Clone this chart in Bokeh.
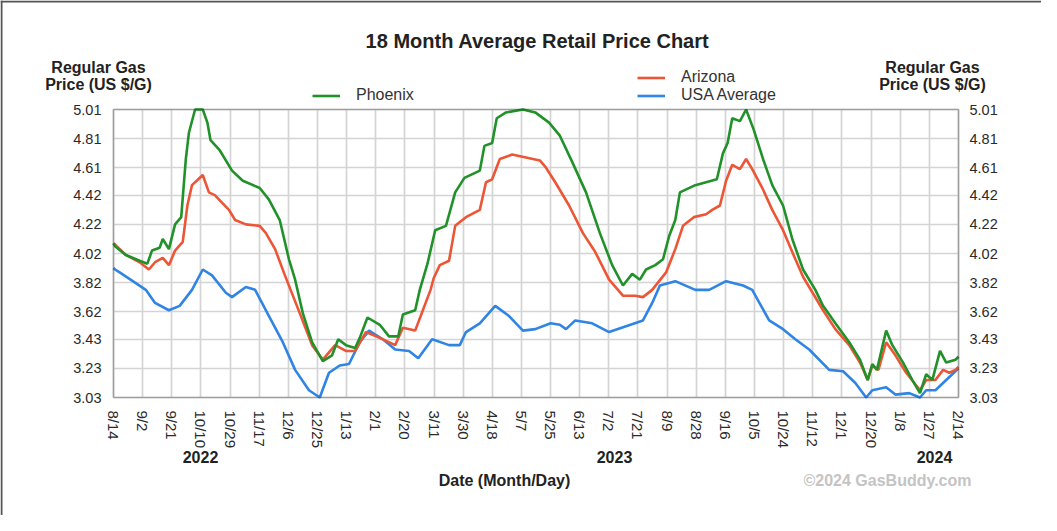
import math
from bokeh.plotting import figure
from bokeh.models import (FixedTicker, LinearAxis, Label, Legend, LegendItem, Range1d,
                          BoxAnnotation, Span)
from bokeh.embed import file_html
from bokeh.resources import INLINE

# ---- data (x = days since 2022-08-14) ----
x_tick_labels = ["8/14", "9/2", "9/21", "10/10", "10/29", "11/17", "12/6", "12/25", "1/13", "2/1",
                 "2/20", "3/11", "3/30", "4/18", "5/7", "5/25", "6/13", "7/2", "7/21", "8/9",
                 "8/28", "9/16", "10/5", "10/24", "11/12", "12/1", "12/20", "1/8", "1/27", "2/14"]
total_days = 549
y_tick_labels = ["3.03", "3.23", "3.43", "3.62", "3.82", "4.02", "4.22", "4.42", "4.61", "4.81", "5.01"]
years = ["2022", "2023", "2024"]

phx_day = [0, 1, 8, 17, 22, 25, 30, 32, 36, 40, 44, 47, 49, 53, 58, 61, 63, 69, 77, 84,
           95, 101, 108, 114, 118, 123, 129, 136, 142, 146, 151, 157, 160, 165, 173, 179, 185, 188, 196, 199,
           204, 209, 216, 222, 228, 238, 241, 246, 249, 255, 266, 274, 283, 290, 298, 307, 316, 324, 331, 337,
           342, 346, 352, 357, 361, 365, 368, 378, 385, 392, 396, 399, 402, 407, 411, 416, 422, 428, 435, 441,
           448, 456, 461, 469, 478, 485, 490, 493, 496, 502, 506, 513, 519, 524, 528, 532, 537, 541, 547, 549]
phx_val = [4.09, 4.07, 4.01, 3.97, 3.95, 4.04, 4.06, 4.12, 4.05, 4.22, 4.27, 4.67, 4.85, 5.01, 5.01, 4.92, 4.80, 4.73, 4.59, 4.52,
           4.47, 4.39, 4.25, 3.98, 3.84, 3.61, 3.41, 3.28, 3.32, 3.43, 3.39, 3.37, 3.44, 3.58, 3.53, 3.45, 3.45, 3.60, 3.63, 3.77,
           3.95, 4.18, 4.21, 4.44, 4.54, 4.59, 4.76, 4.78, 4.95, 4.99, 5.01, 4.99, 4.92, 4.83, 4.65, 4.44, 4.16, 3.94, 3.80, 3.88,
           3.84, 3.91, 3.94, 3.98, 4.14, 4.25, 4.44, 4.49, 4.51, 4.53, 4.71, 4.78, 4.95, 4.93, 5.01, 4.87, 4.67, 4.49, 4.35, 4.12,
           3.91, 3.77, 3.66, 3.54, 3.41, 3.29, 3.15, 3.26, 3.22, 3.49, 3.39, 3.27, 3.15, 3.06, 3.19, 3.15, 3.35, 3.27, 3.29, 3.31]

az_day = [0, 1, 8, 17, 23, 27, 32, 36, 40, 45, 48, 51, 58, 62, 66, 75, 79, 86, 95, 99,
          105, 111, 121, 129, 136, 144, 151, 157, 164, 173, 183, 188, 196, 201, 206, 208, 212, 218, 222, 229,
          238, 242, 246, 251, 259, 268, 277, 281, 287, 296, 305, 313, 322, 331, 339, 344, 350, 359, 365, 370,
          377, 385, 389, 394, 398, 402, 407, 411, 415, 422, 428, 435, 441, 448, 461, 469, 478, 485, 490, 493,
          497, 502, 508, 515, 524, 528, 534, 539, 543, 547, 549]
az_val = [4.09, 4.08, 4.01, 3.96, 3.91, 3.96, 3.99, 3.94, 4.04, 4.10, 4.35, 4.49, 4.56, 4.44, 4.42, 4.32, 4.25, 4.22, 4.21, 4.16,
          4.05, 3.88, 3.61, 3.39, 3.29, 3.39, 3.35, 3.35, 3.48, 3.44, 3.39, 3.51, 3.49, 3.63, 3.77, 3.85, 3.94, 3.97, 4.21, 4.27,
          4.32, 4.51, 4.53, 4.67, 4.70, 4.68, 4.66, 4.61, 4.51, 4.35, 4.16, 4.03, 3.84, 3.73, 3.73, 3.72, 3.77, 3.89, 4.05, 4.21,
          4.27, 4.29, 4.32, 4.35, 4.52, 4.63, 4.60, 4.67, 4.60, 4.46, 4.32, 4.18, 4.03, 3.86, 3.63, 3.50, 3.39, 3.27, 3.15, 3.25,
          3.22, 3.41, 3.32, 3.20, 3.08, 3.15, 3.15, 3.22, 3.20, 3.22, 3.24]

us_day = [0, 1, 4, 14, 21, 27, 36, 43, 51, 58, 64, 73, 77, 86, 92, 101, 110, 118, 127, 134,
          140, 147, 153, 160, 166, 175, 183, 192, 198, 207, 218, 225, 229, 238, 248, 257, 266, 274, 284, 290,
          294, 300, 311, 322, 333, 344, 350, 355, 365, 378, 387, 398, 409, 415, 426, 435, 443, 452, 465, 474,
          482, 489, 493, 502, 508, 517, 524, 528, 534, 541, 547, 549]
us_val = [3.92, 3.91, 3.89, 3.82, 3.77, 3.68, 3.63, 3.66, 3.77, 3.91, 3.87, 3.75, 3.72, 3.79, 3.77, 3.59, 3.41, 3.22, 3.08, 3.03,
          3.20, 3.25, 3.26, 3.41, 3.49, 3.43, 3.36, 3.35, 3.30, 3.43, 3.39, 3.39, 3.48, 3.54, 3.66, 3.59, 3.49, 3.50, 3.54, 3.53,
          3.50, 3.56, 3.54, 3.48, 3.52, 3.56, 3.68, 3.80, 3.83, 3.77, 3.77, 3.83, 3.80, 3.77, 3.56, 3.50, 3.43, 3.36, 3.22, 3.21,
          3.13, 3.03, 3.08, 3.10, 3.05, 3.06, 3.03, 3.08, 3.08, 3.15, 3.21, 3.23]

# ---- layout ----
FONT = "Liberation Sans"
W, H = 1041, 515
PAGE = 8                      # page margin
CH_L, CH_R, CH_T, CH_B = 121, 966, 117, 405   # chart box in page pixels
y_lo, y_hi = float(y_tick_labels[0]), float(y_tick_labels[-1])


def dx(px):
    return (px - CH_L) * total_days / float(CH_R - CH_L)


def dy(py):
    return y_hi - (py - CH_T) * (y_hi - y_lo) / float(CH_B - CH_T)


p = figure(width=W, height=H, output_backend="svg", toolbar_location=None,
           x_range=Range1d(dx(PAGE), dx(PAGE + W)), y_range=Range1d(dy(PAGE + H), dy(PAGE)),
           min_border=0, background_fill_color="white", border_fill_color="white")
p.title.visible = False
p.outline_line_color = None

x_ticks = [i * total_days / (len(x_tick_labels) - 1) for i in range(len(x_tick_labels))]
y_ticks = [float(v) for v in y_tick_labels]

xa = p.xaxis[0]
xa.ticker = FixedTicker(ticks=x_ticks)
xa.major_label_overrides = {t: l for t, l in zip(x_ticks, x_tick_labels)}
xa.major_label_orientation = -math.pi / 2
xa.fixed_location = y_lo
ya = p.yaxis[0]
ya.ticker = FixedTicker(ticks=y_ticks)
ya.major_label_overrides = {t: l for t, l in zip(y_ticks, y_tick_labels)}
ya.fixed_location = 0
ra = LinearAxis(ticker=FixedTicker(ticks=y_ticks), fixed_location=total_days)
ra.major_label_overrides = {t: l for t, l in zip(y_ticks, y_tick_labels)}
p.add_layout(ra, "right")

for ax in (xa, ya, ra):
    ax.axis_line_color = None
    ax.major_tick_line_color = None
    ax.minor_tick_line_color = None
    ax.major_label_text_font = FONT
    ax.major_label_text_font_size = "14.5px"
    ax.major_label_text_color = "#2a2a2a"
    ax.major_label_standoff = 6
ra.major_label_standoff = 5
xa.major_label_standoff = 7
xa.major_label_text_font_size = "15px"

p.xgrid.ticker = FixedTicker(ticks=x_ticks)
p.ygrid.ticker = FixedTicker(ticks=y_ticks)
xg, yg = p.xgrid[0], p.ygrid[0]
for g in (xg, yg):
    g.grid_line_color = "#d4d4d4"
    g.grid_line_width = 1.7
if "cross_bounds" in xg.properties():
    xg.cross_bounds = (y_lo, y_hi)
    yg.cross_bounds = (0, total_days)
else:
    for kw in (dict(right=0), dict(left=total_days), dict(bottom=y_hi), dict(top=y_lo)):
        p.add_layout(BoxAnnotation(fill_color="white", fill_alpha=1, line_color=None,
                                   level="underlay", **kw))

r_us = p.line(us_day, us_val, line_color="#2f84e4", line_width=2.6)
r_az = p.line(az_day, az_val, line_color="#ec5636", line_width=2.6)
r_px = p.line(phx_day, phx_val, line_color="#21912a", line_width=2.6)

# chart border
p.add_layout(BoxAnnotation(left=0, right=total_days, bottom=y_lo, top=y_hi,
                           fill_alpha=0, line_color="#222222", line_width=1.6))
# page frame lines
p.add_layout(Span(location=dx(PAGE + 1), dimension="height", line_color="#555555", line_width=2))
p.add_layout(Span(location=dy(PAGE + 1), dimension="width", line_color="#555555", line_width=2))


# ---- legends (location = lower-left corner, pixels from frame bottom-left) ----
def leg(items, left_px, bottom_px):
    lg = Legend(items=items, location=(left_px - PAGE, PAGE + H - bottom_px), orientation="vertical",
                border_line_color=None, background_fill_alpha=0, padding=0, margin=0, spacing=0,
                label_text_font=FONT, label_text_font_size="16px", label_text_color="#333333",
                glyph_width=28, glyph_height=17, label_height=17, label_standoff=16)
    p.add_layout(lg, "center")


leg([LegendItem(label="Phoenix", renderers=[r_px])], 320, 112)
leg([LegendItem(label="Arizona", renderers=[r_az]),
     LegendItem(label="USA Average", renderers=[r_us])], 645, 112)


# ---- text ----
def txt(s, px, py, size, bold=True, color="#222222", align="center"):
    p.add_layout(Label(x=dx(px), y=dy(py), text=s, text_font=FONT, text_font_size=size,
                       text_font_style="bold" if bold else "normal", text_color=color,
                       text_align=align, text_baseline="middle"))


txt("18 Month Average Retail Price Chart", 545, 48, "20px")
for cx in (106, 940):
    txt("Regular Gas", cx, 75, "16px")
    txt("Price (US $/G)", cx, 92, "16px")
for yr, cx in zip(years, (208, 622, 942)):
    txt(yr, cx, 464, "16px")
txt("Date (Month/Day)", 512, 488, "16px")
txt("\u00a92024 GasBuddy.com", 895, 488, "16px", color="#c4c4c4")

open("out.html", "w").write(file_html(p, INLINE))
